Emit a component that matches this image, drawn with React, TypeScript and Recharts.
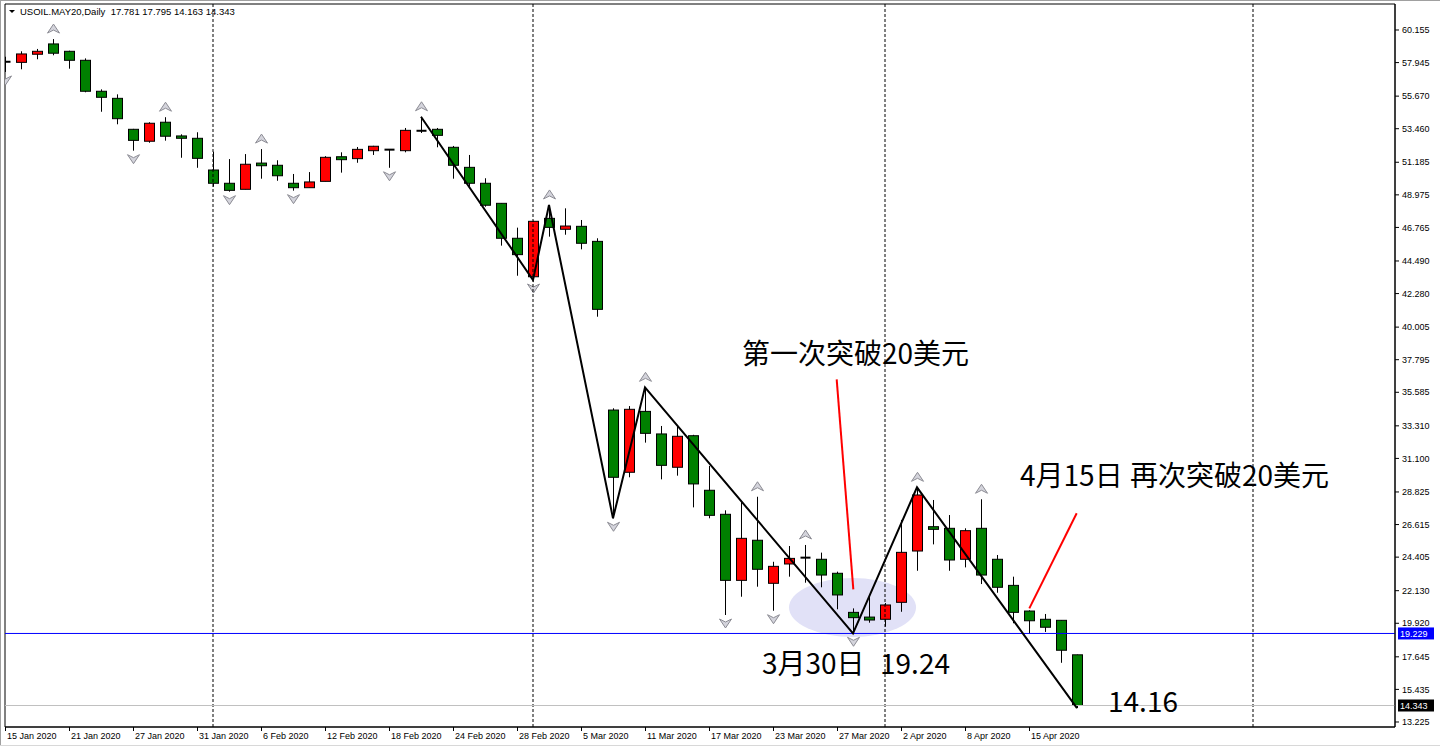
import React from 'react'
import {
  ComposedChart,
  Bar,
  Line,
  XAxis,
  YAxis,
  ReferenceLine,
  ReferenceArea,
  ReferenceDot,
} from 'recharts'

// daily bars, USOIL May20 contract
const dates = [
  '15 Jan 2020', '16 Jan 2020', '17 Jan 2020', '20 Jan 2020', '21 Jan 2020', '22 Jan 2020', '23 Jan 2020',
  '24 Jan 2020', '27 Jan 2020', '28 Jan 2020', '29 Jan 2020', '30 Jan 2020', '31 Jan 2020',
  '3 Feb 2020', '4 Feb 2020', '5 Feb 2020', '6 Feb 2020', '7 Feb 2020', '10 Feb 2020', '11 Feb 2020',
  '12 Feb 2020', '13 Feb 2020', '14 Feb 2020', '17 Feb 2020', '18 Feb 2020', '19 Feb 2020', '20 Feb 2020',
  '21 Feb 2020', '24 Feb 2020', '25 Feb 2020', '26 Feb 2020', '27 Feb 2020', '28 Feb 2020',
  '2 Mar 2020', '3 Mar 2020', '4 Mar 2020', '5 Mar 2020', '6 Mar 2020', '9 Mar 2020', '10 Mar 2020',
  '11 Mar 2020', '12 Mar 2020', '13 Mar 2020', '16 Mar 2020', '17 Mar 2020', '18 Mar 2020', '19 Mar 2020',
  '20 Mar 2020', '23 Mar 2020', '24 Mar 2020', '25 Mar 2020', '26 Mar 2020', '27 Mar 2020', '30 Mar 2020',
  '31 Mar 2020', '1 Apr 2020', '2 Apr 2020', '3 Apr 2020', '6 Apr 2020', '7 Apr 2020', '8 Apr 2020',
  '9 Apr 2020', '13 Apr 2020', '14 Apr 2020', '15 Apr 2020', '16 Apr 2020', '17 Apr 2020', '20 Apr 2020',
]

const opens = [
  58.0, 57.96, 58.51, 59.21, 58.71, 58.1, 56.0, 55.52, 53.42, 52.61, 53.9, 52.97, 52.81,
  50.66, 49.76, 49.35, 51.13, 50.98, 49.76, 49.46, 49.89, 51.56, 51.43, 51.97, 52.04, 51.97, 53.32,
  53.42, 52.2, 50.84, 49.76, 48.4, 46.03,
  43.42, 47.38, 46.64, 46.84, 45.82, 34.38, 30.16, 34.29, 32.76, 30.5, 32.64, 28.94, 27.31, 22.83,
  25.55, 22.63, 23.94, 24.37, 24.26, 23.31, 20.66, 20.34,
  20.19, 21.34, 24.82, 26.47, 26.36, 24.26, 26.36, 24.26, 22.49, 20.75, 20.19, 20.12, 17.781,
]
const highs = [
  58.34, 58.71, 58.87, 59.54, 58.75, 58.23, 56.13, 55.79, 53.45, 53.9, 54.24, 53.08, 53.22,
  51.9, 51.4, 51.74, 52.08, 51.32, 50.39, 50.52, 51.6, 51.86, 52.22, 52.3, 52.06, 53.51, 54.27,
  53.51, 52.29, 51.68, 50.1, 48.4, 46.75,
  47.22, 48.29, 48.06, 47.27, 46.03, 34.5, 34.65, 35.92, 33.3, 33.32, 32.7, 30.59, 27.58, 28.16,
  28.5, 24.09, 25.16, 25.23, 24.71, 23.42, 20.93, 21.72,
  21.29, 26.93, 29.14, 28.28, 27.26, 26.36, 28.33, 24.55, 23.08, 20.8, 20.55, 20.12, 17.795,
]
const lows = [
  57.31, 57.49, 58.17, 58.44, 57.53, 55.93, 54.61, 53.76, 51.97, 52.51, 52.65, 51.49, 50.81,
  49.53, 49.19, 49.35, 50.07, 49.93, 49.26, 49.46, 49.89, 50.48, 51.15, 51.68, 50.81, 51.86, 53.17,
  52.2, 50.07, 49.53, 48.17, 45.53, 43.49,
  43.2, 46.14, 46.27, 45.28, 40.71, 27.04, 29.82, 32.17, 29.68, 29.93, 27.78, 27.04, 20.48, 21.72,
  22.4, 20.77, 23.08, 22.67, 22.36, 20.87, 19.24, 19.96,
  19.69, 20.7, 23.48, 25.27, 23.48, 23.71, 22.58, 21.99, 19.92, 19.19, 19.33, 17.24, 14.163,
]
const closes = [
  58.0, 58.53, 58.71, 58.58, 58.1, 56.0, 55.59, 54.14, 52.67, 53.83, 52.95, 52.81, 51.45,
  49.76, 49.28, 51.05, 50.95, 50.27, 49.46, 49.85, 51.52, 51.36, 52.06, 52.27, 52.04, 53.35, 53.32,
  53.01, 50.98, 49.76, 48.27, 46.03, 44.92,
  47.18, 46.77, 46.86, 45.69, 41.21, 29.82, 34.43, 32.8, 30.63, 32.6, 29.37, 27.24, 22.83, 25.68,
  23.58, 23.78, 24.32, 24.37, 23.19, 21.84, 20.3, 20.14,
  21.16, 24.73, 28.62, 26.29, 24.21, 26.2, 23.19, 22.36, 20.66, 20.09, 19.65, 18.09, 14.343,
]

// zigzag turning points (bar index, price)
const zigzagIdx = [26, 33, 34, 38, 40, 53, 57, 67]
const zigzagPrice = [54.27, 43.2, 48.29, 27.04, 35.92, 19.24, 29.14, 14.163]

// fractal arrows
const fractalUp = [3, 10, 16, 26, 34, 40, 47, 50, 57, 61]
const fractalDown = [0, 8, 14, 18, 24, 33, 38, 45, 48, 53]

// month separators (first bar of month)
const separators = [13, 33, 55, 78]

const dateTicks = [0, 4, 8, 12, 16, 20, 24, 28, 32, 36, 40, 44, 48, 52, 56, 60, 64]
const priceTicks = [
  60.155, 57.945, 55.67, 53.46, 51.185, 48.975, 46.765, 44.49, 42.28, 40.005, 37.795,
  35.585, 33.31, 31.1, 28.825, 26.615, 24.405, 22.13, 19.92, 17.645, 15.435, 13.225,
]

const markLine = 19.229
const bidLine = 14.343

const xMax = 86.875
const yMin = 12.885
const yMax = 61.918

const data = dates.map((d, i) => {
  const z = zigzagIdx.indexOf(i)
  return {
    i,
    date: d,
    open: opens[i],
    high: highs[i],
    low: lows[i],
    close: closes[i],
    zz: z >= 0 ? zigzagPrice[z] : null,
    fu: fractalUp.includes(i),
    fd: fractalDown.includes(i),
  }
})

const axisFont = 'Liberation Sans, Arial, sans-serif'
const noteFont = 'Noto Sans CJK SC, Liberation Sans, sans-serif'

const Candle = (props: any) => {
  const { x, y, width, height, payload } = props
  if (!payload) return null
  const { open, high, low, close, fu, fd } = payload
  const top = Math.min(y, y + height)
  const h = Math.abs(height)
  const k = h / (high - low || 1)
  const cx = Math.round(x + width / 2)
  const py = (v: number) => top + (high - v) * k
  const yH = top
  const yL = top + h
  const yO = py(open)
  const yC = py(close)
  const doji = Math.abs(open - close) < 0.03
  const bTop = Math.min(yO, yC)
  const bH = Math.max(1, Math.abs(yO - yC))
  const up = close > open
  const mx = cx + 0.5
  return (
    <g>
      <line x1={mx} x2={mx} y1={yH} y2={yL} stroke="#000" strokeWidth={1} />
      {doji ? (
        <line x1={cx - 4.5} x2={cx + 5.5} y1={yO} y2={yO} stroke="#000" strokeWidth={2} />
      ) : (
        <rect x={cx - 4.5} y={bTop} width={10} height={bH} fill={up ? '#ff0000' : '#008000'} stroke="#000" strokeWidth={1} />
      )}
      {fu && (
        <path
          d={`M${mx},${yH - 15} L${mx - 6},${yH - 6} L${mx},${yH - 9} L${mx + 6},${yH - 6} Z`}
          fill="#d4d4dc"
          stroke="#8c8c94"
          strokeWidth={1}
        />
      )}
      {fd && (
        <path
          d={`M${mx},${yL + 13} L${mx - 6},${yL + 4} L${mx},${yL + 7} L${mx + 6},${yL + 4} Z`}
          fill="#d4d4dc"
          stroke="#8c8c94"
          strokeWidth={1}
        />
      )}
    </g>
  )
}

const DateTick = ({ x, y, payload }: any) => (
  <g>
    <line x1={x + 0.5} x2={x + 0.5} y1={y} y2={y + 4} stroke="#000" />
    <text x={x + 2} y={y + 12} fontSize={9} fontFamily={axisFont} fill="#000" textAnchor="start">
      {dates[payload.value]}
    </text>
  </g>
)

const PriceTag = ({ viewBox, value, bg }: any) => {
  if (!viewBox) return null
  const tx = viewBox.x + viewBox.width + 3
  const ty = viewBox.y
  return (
    <g>
      <rect x={tx} y={ty - 6} width={36} height={12} fill={bg} />
      <text x={tx + 2} y={ty + 3.5} fontSize={9} fontFamily={axisFont} fill="#fff">
        {value}
      </text>
    </g>
  )
}

const Ellipse = ({ x, y, width, height }: any) => (
  <ellipse cx={x + width / 2} cy={y + height / 2} rx={width / 2} ry={height / 2} fill="#e1e1f7" />
)

const notes = [
  { text: '第一次突破20美元', i: 46.06, p: 38.32 },
  { text: '4月15日', i: 63.44, p: 30.04 },
  { text: '再次突破20美元', i: 70.31, p: 30.04 },
  { text: '3月30日', i: 47.31, p: 17.29 },
  { text: '19.24', i: 54.69, p: 17.29 },
  { text: '14.16', i: 68.94, p: 14.71 },
]

const pointers = [
  [{ x: 51.98, y: 36.46 }, { x: 53.02, y: 22.22 }],
  [{ x: 64.02, y: 20.93 }, { x: 66.98, y: 27.38 }],
]

export default function App() {
  return (
    <div
      style={{
        position: 'absolute',
        left: 0,
        top: 0,
        width: 1440,
        height: 748,
        background: '#fff',
        overflow: 'hidden',
      }}
    >
      <ComposedChart width={1440} height={748} data={data} margin={{ top: 4, right: 0, bottom: 0, left: 5 }}>
        <XAxis
          dataKey="i"
          type="number"
          domain={[0, xMax]}
          allowDataOverflow
          ticks={dateTicks}
          interval={0}
          tickSize={0}
          tickMargin={0}
          height={21}
          axisLine={{ stroke: '#000' }}
          tickLine={false}
          tick={(p: any) => <DateTick {...p} />}
        />
        <YAxis
          orientation="right"
          type="number"
          domain={[yMin, yMax]}
          allowDataOverflow
          ticks={priceTicks}
          interval={0}
          width={45}
          tickSize={4}
          tickMargin={3}
          axisLine={{ stroke: '#000' }}
          tickLine={{ stroke: '#000' }}
          tick={{ fontSize: 9, fontFamily: axisFont, fill: '#000' }}
          tickFormatter={(v: number) => v.toFixed(3)}
        />

        <ReferenceArea x1={49} x2={56.94} y1={18.99} y2={22.99} shape={(p: any) => <Ellipse {...p} />} />
        <ReferenceArea x1={0} x2={xMax} y1={yMin} y2={yMax} fill="none" stroke="#000" strokeWidth={1} fillOpacity={0} />

        {separators.map((s) => (
          <ReferenceLine key={s} x={s} stroke="#000" strokeDasharray="3 2" />
        ))}

        <ReferenceLine
          y={markLine}
          stroke="#0000ff"
          label={(p: any) => <PriceTag {...p} value={markLine.toFixed(3)} bg="#0000ff" />}
        />
        <ReferenceLine
          y={bidLine}
          stroke="#c0c0c0"
          label={(p: any) => <PriceTag {...p} value={bidLine.toFixed(3)} bg="#000" />}
        />

        <Bar
          dataKey={(d: any) => [d.low, d.high]}
          barSize={10}
          isAnimationActive={false}
          shape={(p: any) => <Candle {...p} />}
        />

        <Line
          dataKey="zz"
          connectNulls
          stroke="#000"
          strokeWidth={2}
          dot={false}
          activeDot={false}
          isAnimationActive={false}
        />

        {pointers.map((seg, k) => (
          <ReferenceLine key={k} segment={seg} stroke="#ff0000" strokeWidth={2} />
        ))}

        {notes.map((n) => (
          <ReferenceDot
            key={n.text}
            x={n.i}
            y={n.p}
            r={0}
            shape={(p: any) => (
              <text x={p.cx} y={p.cy} fontSize={28} fontFamily={noteFont} fill="#000" dominantBaseline="central">
                {n.text}
              </text>
            )}
          />
        ))}
      </ComposedChart>

      {/* window frame */}
      <div style={{ position: 'absolute', left: 0, top: 0, width: 1440, height: 1, background: '#a0a0a0' }} />
      <div style={{ position: 'absolute', left: 0, top: 0, width: 1, height: 746, background: '#a0a0a0' }} />
      <div style={{ position: 'absolute', left: 0, top: 745, width: 1440, height: 1, background: '#d8d8d8' }} />

      <svg style={{ position: 'absolute', left: 0, top: 0 }} width={20} height={20}>
        <path d="M9,10 L15,10 L12,13 Z" fill="#000" />
      </svg>
      <div
        style={{
          position: 'absolute',
          left: 20,
          top: 6,
          fontFamily: axisFont,
          fontSize: 9.5,
          lineHeight: '12px',
          color: '#000',
          whiteSpace: 'pre',
        }}
      >
        USOIL.MAY20,Daily  17.781 17.795 14.163 14.343
      </div>
    </div>
  )
}
